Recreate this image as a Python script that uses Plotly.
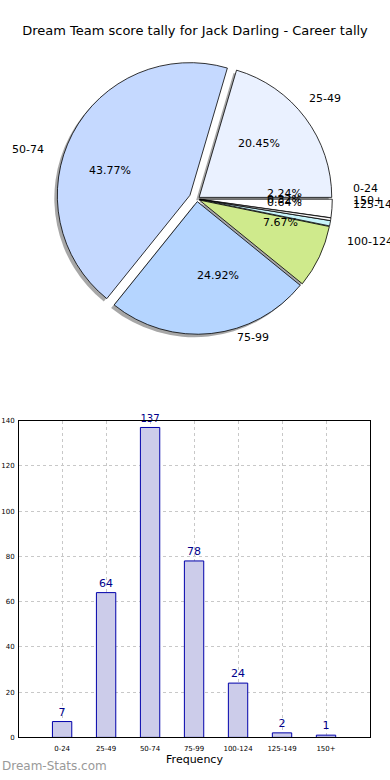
import math
import plotly.graph_objects as go

# ---- data ----
categories = ["0-24", "25-49", "50-74", "75-99", "100-124", "125-149", "150+"]
counts = [7, 64, 137, 78, 24, 2, 1]
pie_colors = ["#ffffff", "#eaf1ff", "#c5d9ff", "#b5d5ff", "#cfea8c", "#c8f4fa", "#ffffff"]
pulls = [0.02, 0.02, 0.06, 0.02, 0.02, 0.02, 0.02]
title_text = "Dream Team score tally for Jack Darling - Career tally"

W, H = 390, 780
FONT = "DejaVu Sans"

# pie geometry (pixels)
cx, cy, R = 197, 197, 134
half = R * (1 + max(pulls))


def px_dom(x0, y0, h):
    return dict(x=[(x0 - h) / W, (x0 + h) / W], y=[1 - (y0 + h) / H, 1 - (y0 - h) / H])


fig = go.Figure()

# shadow
fig.add_trace(go.Pie(
    labels=categories, values=counts, sort=False, direction="counterclockwise",
    rotation=90, pull=pulls, textinfo="none", hoverinfo="skip",
    marker=dict(colors=["#8a8a8a"] * len(counts), line=dict(width=0)),
    opacity=0.75, domain=px_dom(cx - 3, cy + 3, half), showlegend=False,
))
# main pie
fig.add_trace(go.Pie(
    labels=categories, values=counts, sort=False, direction="counterclockwise",
    rotation=90, pull=pulls, textinfo="none",
    marker=dict(colors=pie_colors, line=dict(color="#000000", width=0.8)),
    domain=px_dom(cx, cy, half), showlegend=False,
))

# pie labels (matplotlib style: labels at 1.1 r, pct at 0.6 r)
annotations = []
total = sum(counts)
cum = 0
for lab, v, p in zip(categories, counts, pulls):
    theta = math.radians(360.0 * (cum + v / 2) / total)
    cum += v
    c, s = math.cos(theta), math.sin(theta)
    ox, oy = cx + p * R * c, cy - p * R * s
    lx, ly = ox + 1.1 * 138 * c, oy - 1.1 * 129 * s
    annotations.append(dict(
        x=lx / W, y=1 - ly / H, xref="paper", yref="paper", text=lab, showarrow=False,
        xanchor="left" if c > 0 else "right", yanchor="middle",
        font=dict(family=FONT, size=11, color="#000000"),
    ))
    tx, ty = ox + 0.6 * 141 * c, oy - 0.6 * 129 * s
    annotations.append(dict(
        x=tx / W, y=1 - ty / H, xref="paper", yref="paper",
        text="%.2f%%" % (100.0 * v / total), showarrow=False,
        xanchor="center", yanchor="middle",
        font=dict(family=FONT, size=11, color="#000000"),
    ))

# bar chart
fig.add_trace(go.Bar(
    x=categories, y=counts, width=0.44,
    marker=dict(color="#ccccea", line=dict(color="#0000aa", width=1)),
    text=[str(v) for v in counts], textposition="outside", cliponaxis=False,
    textfont=dict(family=FONT, size=11, color="#00008b"),
    xaxis="x", yaxis="y", showlegend=False,
))

annotations.append(dict(
    x=0, y=1 - 770 / H, xref="paper", yref="paper", text="Dream-Stats.com",
    showarrow=False, xanchor="left", yanchor="middle",
    font=dict(family=FONT, size=12, color="#999999"),
))

fig.update_layout(
    width=W, height=H, margin=dict(l=0, r=0, t=0, b=0),
    paper_bgcolor="#ffffff", plot_bgcolor="#ffffff",
    title=dict(text=title_text, x=0.5, xanchor="center", y=1 - 30 / H, yanchor="middle",
               font=dict(family=FONT, size=13, color="#000000")),
    annotations=annotations,
    xaxis=dict(domain=[19 / W, 370 / W], anchor="y", type="category", range=[-0.98, 7.0],
               showgrid=True, gridcolor="#c8c8c8", griddash="dot", gridwidth=1,
               showline=True, linecolor="#000000", linewidth=1, mirror=True,
               ticks="", ticklabelstandoff=4,
               tickfont=dict(family=FONT, size=7, color="#000000"),
               title=dict(text="Frequency", font=dict(family=FONT, size=11, color="#000000"), standoff=3),
               zeroline=False, fixedrange=True),
    yaxis=dict(domain=[1 - 741 / H, 1 - 421 / H], anchor="x", range=[0, 140], dtick=20,
               showgrid=True, gridcolor="#c8c8c8", griddash="dot", gridwidth=1,
               showline=True, linecolor="#000000", linewidth=1, mirror=True,
               ticks="", ticklabelstandoff=2,
               tickfont=dict(family=FONT, size=7, color="#000000"),
               zeroline=False, fixedrange=True),
    bargap=0.5,
)

fig.write_html("out.html", config={"displayModeBar": False},
               post_script="document.body.style.margin='0';")
